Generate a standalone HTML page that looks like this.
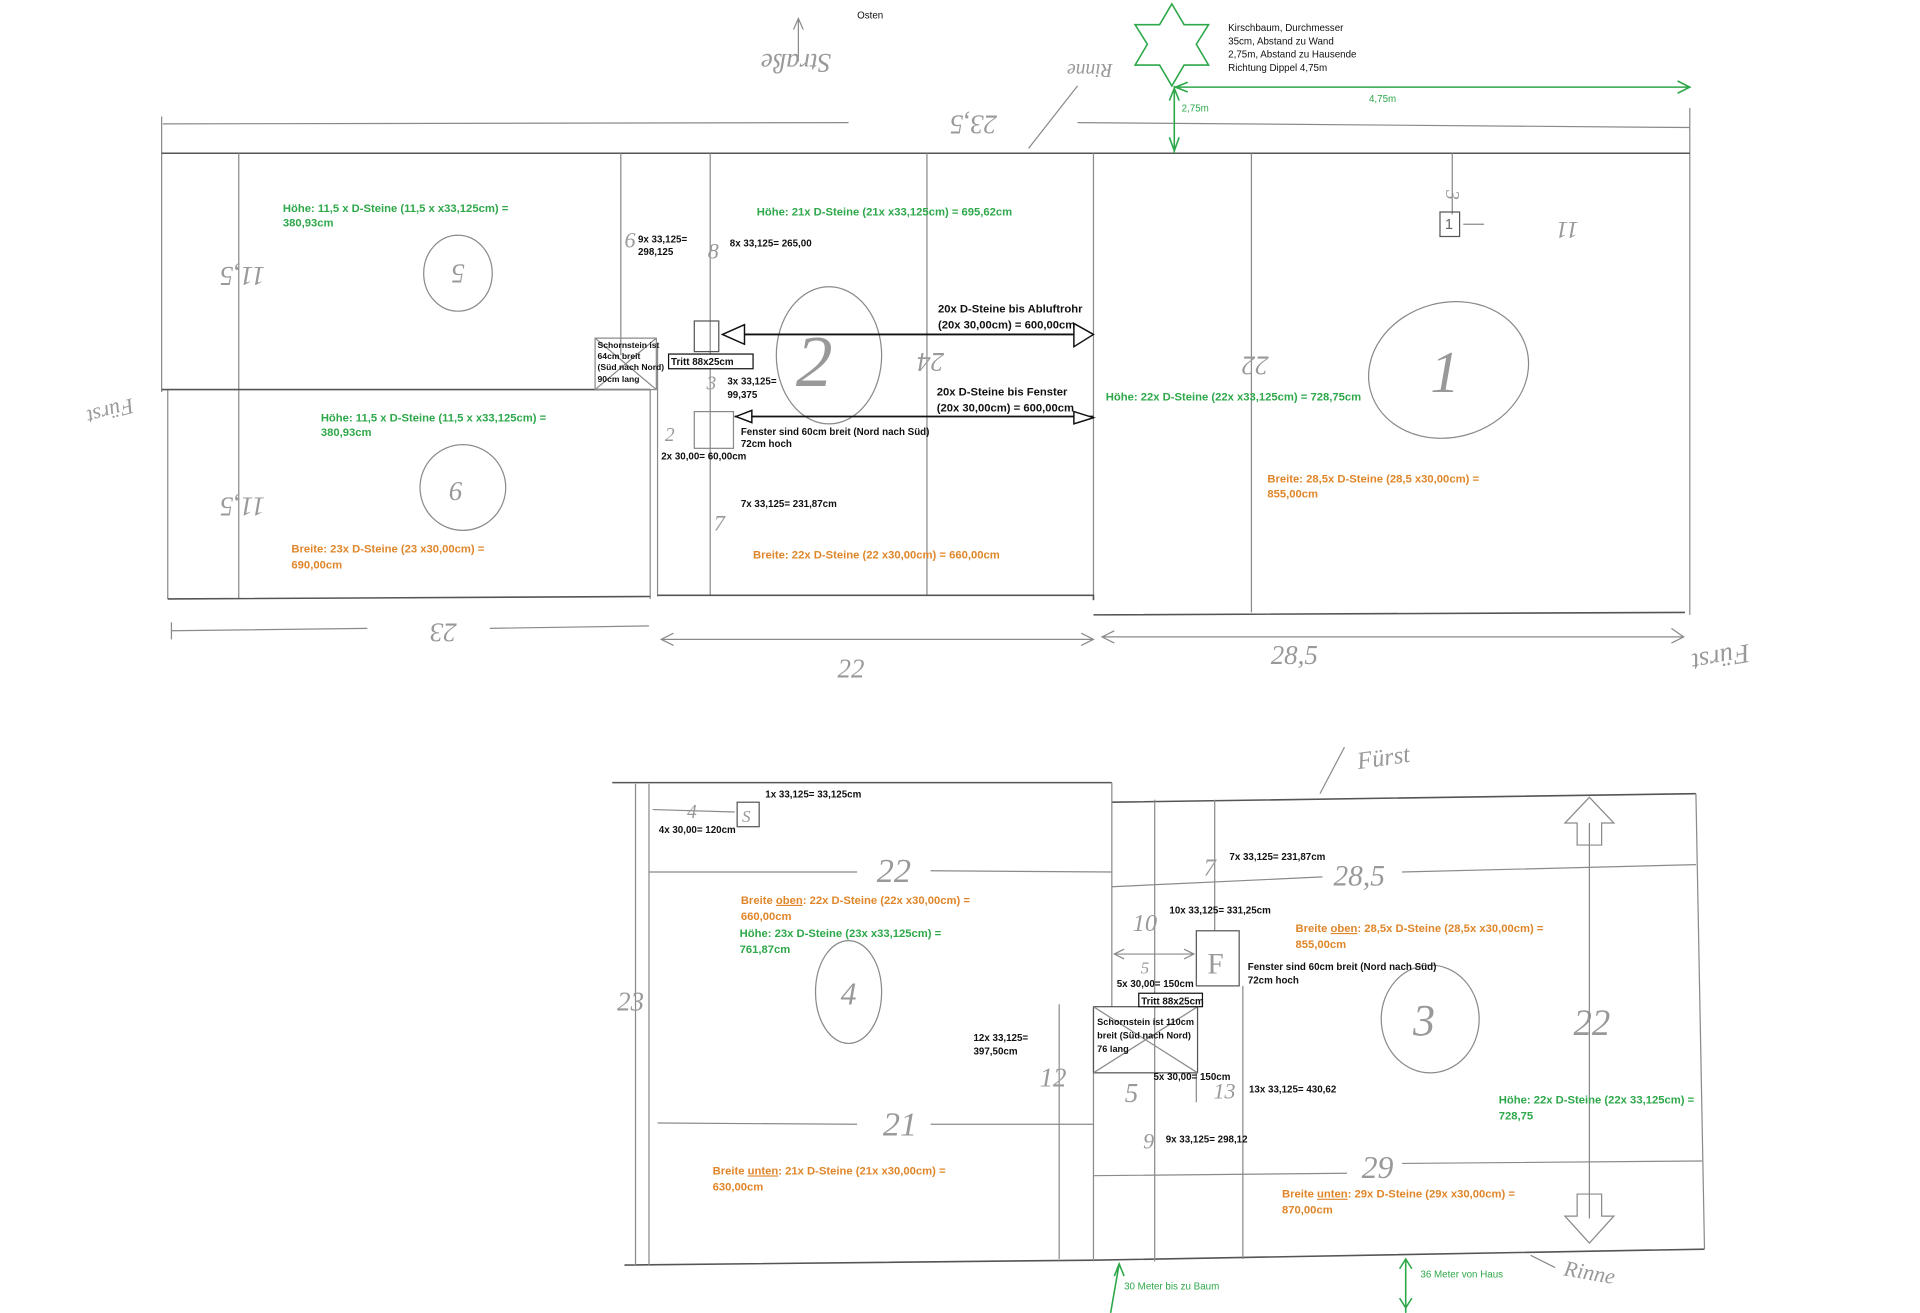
<!DOCTYPE html>
<html><head><meta charset="utf-8"><style>
html,body{margin:0;padding:0;background:#fff}
svg{display:block}
text{font-family:"Liberation Sans",sans-serif}
.g{fill:#2ea84a;font-size:9.2px;font-weight:bold}
.o{fill:#e0862a;font-size:9.2px;font-weight:bold}
.k{fill:#111;font-size:8px;font-weight:bold}
.h{fill:#999;font-size:22px;font-family:"Liberation Serif",serif;font-style:italic}
.l{stroke:#8a8a8a;stroke-width:1;fill:none}
.d{stroke:#555;stroke-width:1.3;fill:none}
.gl{stroke:#2ea84a;stroke-width:1.3;fill:none}
</style></head><body>
<svg width="1920" height="1313" viewBox="0 0 1568 1072" xmlns="http://www.w3.org/2000/svg">
<rect width="1568" height="1072" fill="#fff"/>
<text x="700" y="15" class="k" style="font-weight:normal">Osten</text>
<path class="l" d="M652 50 L652 15 M648 24 L652 15 L656 24"/>
<text x="650" y="60" class="h" transform="rotate(180 650 52)" text-anchor="middle">Straße</text>
<text x="890" y="62" class="h" style="font-size:16px" transform="rotate(180 890 57)" text-anchor="middle">Rinne</text>
<path class="l" d="M840 121 L880 70"/>
<path class="l" d="M133 101 L693 100 M880 100 L1380 104 M132 95 L132 320 M1380 88 L1380 502"/>
<text x="795" y="110" class="h" transform="rotate(180 795 102)" text-anchor="middle">23,5</text>
<path class="d" d="M132 125 L1380 125"/>
<path class="l" d="M195 125 L195 489 M507 125 L507 290 M580 125 L580 486 M757 125 L757 486 M1022 125 L1022 500 M1186 125 L1186 175 M1195 183 L1212 183"/>
<path class="l" d="M893 125 L893 490 M137 318 L137 489 M531 318 L531 489 M537 282 L537 487"/>
<path class="d" d="M132 318 L531 318 M137 489 L531 487 M537 486 L893 486 L893 490 M893 502 L1376 500"/>
<rect x="1176" y="173" width="16" height="20" class="d" style="stroke-width:1"/>
<text x="1180" y="187" font-size="12" fill="#666">1</text>
<text x="1186" y="160" class="h" style="font-size:16px" transform="rotate(90 1186 155)">3</text>
<text x="1280" y="195" class="h" style="font-size:20px" transform="rotate(180 1280 188)" text-anchor="middle">11</text>
<text x="198" y="232" class="h" transform="rotate(180 198 225)" text-anchor="middle">11,5</text>
<text x="198" y="420" class="h" transform="rotate(180 198 413)" text-anchor="middle">11,5</text>
<ellipse cx="374" cy="223" rx="28" ry="31" class="l"/>
<text x="374" y="232" class="h" transform="rotate(180 374 224)" text-anchor="middle">5</text>
<ellipse cx="378" cy="398" rx="35" ry="35" class="l"/>
<text x="372" y="408" class="h" text-anchor="middle">6</text>
<ellipse cx="677" cy="290" rx="43" ry="56" class="l"/>
<text x="665" y="315" class="h" style="font-size:60px" text-anchor="middle">2</text>
<ellipse cx="1183" cy="302" rx="66" ry="55" class="l" transform="rotate(-15 1183 302)"/>
<text x="1180" y="320" class="h" style="font-size:48px" text-anchor="middle">1</text>
<text x="1025" y="305" class="h" transform="rotate(180 1025 298)" text-anchor="middle">22</text>
<text x="760" y="302" class="h" transform="rotate(180 760 295)" text-anchor="middle">24</text>
<text x="90" y="340" class="h" style="font-size:18px" transform="rotate(165 90 335)" text-anchor="middle">Fürst</text>
<text x="1405" y="540" class="h" style="font-size:22px" transform="rotate(170 1405 535)" text-anchor="middle">Fürst</text>
<text x="510" y="202" class="h" style="font-size:18px">6</text>
<text x="578" y="211" class="h" style="font-size:18px">8</text>
<text x="577" y="318" class="h" style="font-size:16px">3</text>
<text x="543" y="360" class="h" style="font-size:16px">2</text>
<text x="583" y="433" class="h" style="font-size:18px">7</text>
<path class="l" d="M140 515 L300 513 M400 513 L530 511 M140 508 L140 522"/>
<text x="362" y="527" class="h" transform="rotate(180 362 518)" text-anchor="middle">23</text>
<path class="l" d="M540 522 L893 522 M550 517 L540 522 L550 527 M883 517 L893 522 L883 527 M900 520 L1375 520 M910 515 L900 520 L910 525 M1365 513 L1375 520 L1365 525"/>
<text x="695" y="553" class="h" text-anchor="middle">22</text>
<text x="1057" y="542" class="h" text-anchor="middle">28,5</text>
<rect x="567" y="262" width="20" height="25" class="d" style="stroke-width:1"/>
<rect x="486" y="276" width="50" height="42" class="l"/>
<path class="l" d="M486 276 L536 318 M536 276 L486 318"/>
<rect x="546" y="289" width="69" height="12" fill="#fff" stroke="#111" stroke-width="1"/>
<text x="548" y="298" class="k">Tritt 88x25cm</text>
<text x="488" y="284" class="k" style="font-size:7px">Schornstein ist</text>
<text x="488" y="293" class="k" style="font-size:7px">64cm breit</text>
<text x="488" y="302" class="k" style="font-size:7px">(Süd nach Nord)</text>
<text x="488" y="312" class="k" style="font-size:7px">90cm lang</text>
<rect x="567" y="336" width="32" height="30" class="l"/>
<path stroke="#111" stroke-width="1.5" fill="none" d="M600 273 L893 273 M600 340 L893 340"/>
<path stroke="#111" stroke-width="1.2" fill="#fff" d="M590 273 L608 265 L608 281 Z M877 264 L893 273 L877 283 Z M601 340 L614 335 L614 345 Z M877 336 L893 341 L877 346 Z"/>
<polygon class="gl" points="957,3 967,20 987,20 977,36 987,53 967,53 957,70 947,53 927,53 937,36 927,20 947,20"/>
<path class="gl" d="M960 71 L1380 71 M970 67 L960 71 L970 75 M1370 66 L1380 71 L1370 76 M959 70 L959 125 M955 82 L959 72 L963 82 M955 112 L959 123 L963 112"/>
<text x="1118" y="83" class="g" style="font-size:8px;font-weight:normal">4,75m</text>
<text x="965" y="91" class="g" style="font-size:8px;font-weight:normal">2,75m</text>
<text x="1003" y="25" class="k" style="font-weight:normal">Kirschbaum, Durchmesser</text>
<text x="1003" y="36" class="k" style="font-weight:normal">35cm, Abstand zu Wand</text>
<text x="1003" y="47" class="k" style="font-weight:normal">2,75m, Abstand zu Hausende</text>
<text x="1003" y="58" class="k" style="font-weight:normal">Richtung Dippel 4,75m</text>
<text x="231" y="173" class="g">Höhe:  11,5 x D-Steine (11,5 x x33,125cm) =</text>
<text x="231" y="185" class="g">380,93cm</text>
<text x="618" y="176" class="g">Höhe:  21x D-Steine (21x x33,125cm) = 695,62cm</text>
<text x="262" y="344" class="g">Höhe:  11,5 x D-Steine (11,5 x x33,125cm) =</text>
<text x="262" y="356" class="g">380,93cm</text>
<text x="903" y="327" class="g">Höhe:  22x D-Steine (22x x33,125cm) = 728,75cm</text>
<text x="1035" y="394" class="o">Breite: 28,5x D-Steine (28,5 x30,00cm) =</text>
<text x="1035" y="406" class="o">855,00cm</text>
<text x="238" y="451" class="o">Breite: 23x D-Steine (23 x30,00cm) =</text>
<text x="238" y="464" class="o">690,00cm</text>
<text x="615" y="456" class="o">Breite: 22x D-Steine (22 x30,00cm) = 660,00cm</text>
<text x="521" y="198" class="k">9x 33,125=</text>
<text x="521" y="208" class="k">298,125</text>
<text x="596" y="201" class="k">8x 33,125= 265,00</text>
<text x="594" y="314" class="k">3x 33,125=</text>
<text x="594" y="325" class="k">99,375</text>
<text x="540" y="375" class="k">2x 30,00= 60,00cm</text>
<text x="605" y="355" class="k">Fenster sind 60cm breit (Nord nach Süd)</text>
<text x="605" y="365" class="k">72cm hoch</text>
<text x="605" y="414" class="k">7x 33,125= 231,87cm</text>
<text x="766" y="255" class="k" style="font-size:9.2px">20x D-Steine bis Abluftrohr</text>
<text x="766" y="268" class="k" style="font-size:9.2px">(20x 30,00cm) = 600,00cm</text>
<text x="765" y="323" class="k" style="font-size:9.2px">20x D-Steine bis  Fenster</text>
<text x="765" y="336" class="k" style="font-size:9.2px">(20x 30,00cm) = 600,00cm</text>
<text x="1130" y="625" class="h" style="font-size:20px" transform="rotate(-8 1130 620)" text-anchor="middle">Fürst</text>
<path class="l" d="M1078 648 L1098 610"/>
<path class="d" d="M500 639 L908 639 M908 655 L1385 648 M510 1033 L893 1029 L1392 1020"/>
<path class="l" d="M530 640 L530 1033 M519 640 L519 1033 M908 639 L908 822 M893 822 L893 1030 M865 820 L865 1028 M1385 648 L1392 1020 M943 653 L943 1030 M992 653 L992 760 M1015 805 L1015 1028 M977 876 L977 900"/>
<path class="l" d="M530 712 L700 712 M760 711 L908 712 M908 724 L1080 716 M1145 712 L1385 706 M537 917 L700 918 M760 918 L893 918 M893 960 L1100 958 M1145 950 L1390 948 M533 661 L600 663"/>
<text x="730" y="720" class="h" style="font-size:28px" text-anchor="middle">22</text>
<text x="735" y="927" class="h" style="font-size:28px" text-anchor="middle">21</text>
<text x="1110" y="723" class="h" style="font-size:24px" text-anchor="middle">28,5</text>
<text x="1125" y="962" class="h" style="font-size:26px" text-anchor="middle">29</text>
<text x="515" y="825" class="h" text-anchor="middle">23</text>
<text x="1300" y="845" class="h" style="font-size:30px" text-anchor="middle">22</text>
<text x="565" y="668" class="h" style="font-size:16px" text-anchor="middle">4</text>
<text x="935" y="760" class="h" style="font-size:20px" text-anchor="middle">10</text>
<text x="988" y="715" class="h" style="font-size:20px" text-anchor="middle">7</text>
<text x="860" y="887" class="h" text-anchor="middle">12</text>
<text x="924" y="900" class="h" text-anchor="middle">5</text>
<text x="1000" y="897" class="h" style="font-size:18px" text-anchor="middle">13</text>
<text x="938" y="938" class="h" style="font-size:18px" text-anchor="middle">9</text>
<text x="935" y="795" class="h" style="font-size:14px" text-anchor="middle">5</text>
<ellipse cx="693" cy="810" rx="27" ry="42" class="l"/>
<text x="693" y="820" class="h" style="font-size:26px" text-anchor="middle">4</text>
<ellipse cx="1168" cy="832" rx="40" ry="44" class="l"/>
<text x="1163" y="845" class="h" style="font-size:36px" text-anchor="middle">3</text>
<path class="l" d="M1298 672 L1298 995 M1288 672 L1278 672 L1298 651 L1318 672 L1308 672 L1308 690 L1288 690 Z M1288 993 L1278 993 L1298 1015 L1318 993 L1308 993 L1308 993 L1308 975 L1288 975 Z"/>
<path class="l" d="M910 779 L975 779 M918 775 L910 779 L918 783 M967 775 L975 779 L967 783"/>
<rect x="602" y="655" width="18" height="20" class="l" style="stroke:#555"/>
<text x="606" y="671" class="h" style="font-size:14px">S</text>
<rect x="977" y="760" width="35" height="45" class="l" style="stroke:#555"/>
<text x="986" y="795" class="h" style="font-size:24px;font-style:normal">F</text>
<rect x="893" y="822" width="85" height="54" class="l" style="stroke:#555"/>
<path class="l" d="M893 822 L978 876 M978 822 L893 876"/>
<rect x="930" y="811" width="52" height="11" fill="#fff" stroke="#111" stroke-width="1"/>
<text x="932" y="820" class="k">Tritt  88x25cm</text>
<text x="896" y="837" class="k" style="font-size:7.5px">Schornstein ist 110cm</text>
<text x="896" y="848" class="k" style="font-size:7.5px">breit (Süd nach Nord)</text>
<text x="896" y="859" class="k" style="font-size:7.5px">76 lang</text>
<text x="625" y="651" class="k">1x 33,125= 33,125cm</text>
<text x="538" y="680" class="k">4x 30,00= 120cm</text>
<text x="1004" y="702" class="k">7x 33,125= 231,87cm</text>
<text x="955" y="746" class="k">10x 33,125= 331,25cm</text>
<text x="912" y="806" class="k">5x 30,00=  150cm</text>
<text x="1019" y="792" class="k">Fenster sind 60cm breit (Nord nach Süd)</text>
<text x="1019" y="803" class="k">72cm hoch</text>
<text x="795" y="850" class="k">12x 33,125=</text>
<text x="795" y="861" class="k">397,50cm</text>
<text x="942" y="882" class="k">5x 30,00= 150cm</text>
<text x="1020" y="892" class="k">13x 33,125= 430,62</text>
<text x="952" y="933" class="k">9x 33,125= 298,12</text>
<text x="605" y="738" class="o">Breite <tspan text-decoration="underline">oben</tspan>:  22x D-Steine (22x x30,00cm) =</text>
<text x="605" y="751" class="o">660,00cm</text>
<text x="604" y="765" class="g">Höhe:  23x D-Steine (23x x33,125cm) =</text>
<text x="604" y="778" class="g">761,87cm</text>
<text x="1058" y="761" class="o">Breite <tspan text-decoration="underline">oben</tspan>:  28,5x D-Steine (28,5x x30,00cm) =</text>
<text x="1058" y="774" class="o">855,00cm</text>
<text x="1224" y="901" class="g">Höhe: 22x D-Steine (22x 33,125cm) =</text>
<text x="1224" y="914" class="g">728,75</text>
<text x="582" y="959" class="o">Breite <tspan text-decoration="underline">unten</tspan>:  21x D-Steine (21x x30,00cm) =</text>
<text x="582" y="972" class="o">630,00cm</text>
<text x="1047" y="978" class="o">Breite <tspan text-decoration="underline">unten</tspan>:  29x D-Steine (29x x30,00cm) =</text>
<text x="1047" y="991" class="o">870,00cm</text>
<text x="1298" y="1045" class="h" style="font-size:18px" transform="rotate(10 1298 1040)" text-anchor="middle">Rinne</text>
<path class="l" d="M1250 1025 L1270 1035"/>
<path class="gl" d="M914 1032 L907 1072 M910 1042 L914 1032 L918 1042 M1148 1028 L1148 1072 M1143 1036 L1148 1028 L1153 1036 M1143 1060 L1148 1068 L1153 1060"/>
<text x="918" y="1053" class="g" style="font-size:8px;font-weight:normal">30 Meter bis zu Baum</text>
<text x="1160" y="1043" class="g" style="font-size:8px;font-weight:normal">36 Meter von Haus</text>
</svg>
</body></html>
